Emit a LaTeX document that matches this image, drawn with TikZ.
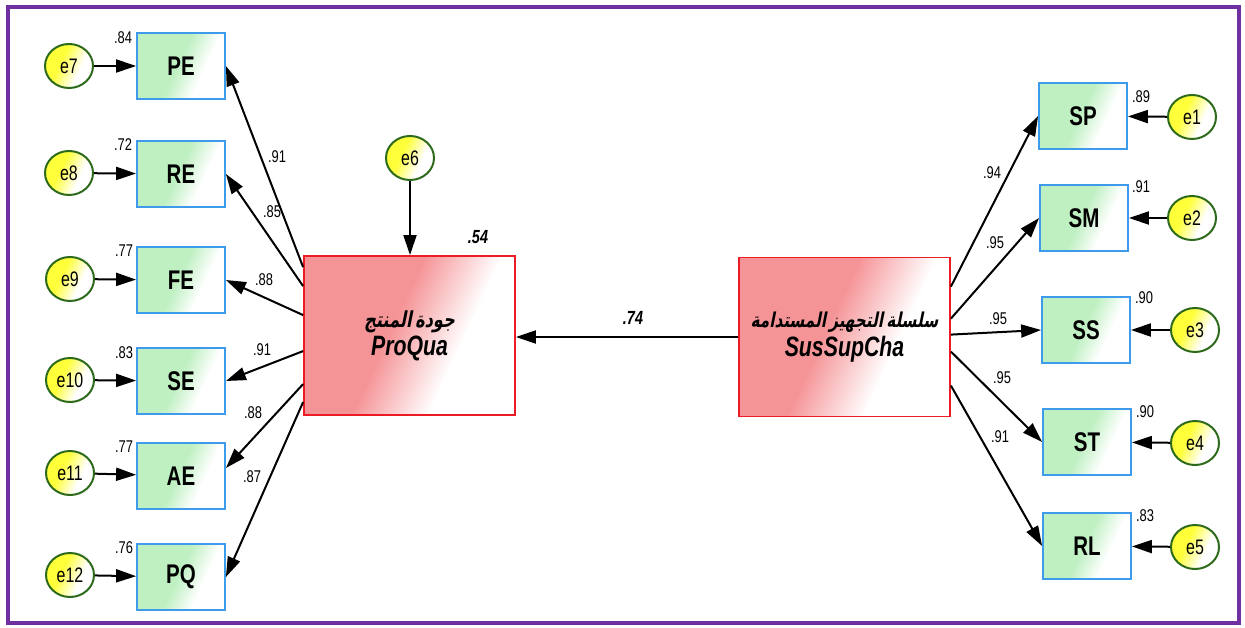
\documentclass[tikz,border=0pt]{standalone}
\usepackage{fontspec}
\setmainfont{Liberation Sans}[FakeStretch=0.76]
\newfontfamily\arabicfont[Script=Arabic,FakeSlant=0.2,FakeStretch=0.74]{DejaVu Sans}
\TeXXeTstate=1
\usetikzlibrary{arrows.meta,shapes.geometric,calc}
\definecolor{framepurple}{HTML}{7030A0}
\definecolor{boxgreen}{HTML}{BFF0C2}
\definecolor{boxblue}{HTML}{3E9BEB}
\definecolor{errgreen}{HTML}{2E6A1C}
\definecolor{erryellow}{HTML}{FFFF3A}
\definecolor{latred}{HTML}{EC1C24}
\definecolor{latpink}{HTML}{F59497}
\pgfdeclarehorizontalshading{gfade}{100bp}{color(0bp)=(boxgreen); color(25bp)=(boxgreen); color(48bp)=(boxgreen); color(64bp)=(white); color(100bp)=(white)}
\pgfdeclarehorizontalshading{yfade}{100bp}{color(0bp)=(erryellow); color(25bp)=(erryellow); color(40bp)=(erryellow); color(62bp)=(white); color(100bp)=(white)}
\pgfdeclarehorizontalshading{rfade}{100bp}{color(0bp)=(latpink); color(25bp)=(latpink); color(45bp)=(latpink); color(63bp)=(white); color(100bp)=(white)}
\tikzset{
 ind/.style={draw=boxblue, line width=1.8pt, minimum width=88pt, minimum height=66pt, inner sep=0pt, shading=gfade, shading angle=-25, font=\fontsize{27}{28}\selectfont\bfseries},
 err/.style={ellipse, draw=errgreen, line width=2pt, minimum width=48pt, minimum height=44pt, inner sep=0pt, shading=yfade, shading angle=-25, font=\fontsize{21}{22}\selectfont},
 lat/.style={draw=latred, line width=1.8pt, minimum width=211pt, minimum height=159pt, text width=205pt, inner sep=0pt, shading=rfade, shading angle=-25, align=center},
 arr/.style={line width=2pt, -{Triangle[length=20pt,width=13pt]}},
 lbl/.style={font=\fontsize{17}{18}\selectfont, inner sep=0pt},
 blbl/.style={font=\fontsize{19}{20}\selectfont\bfseries\itshape, inner sep=0pt}
}
\begin{document}
\begin{tikzpicture}[x=1pt,y=-1pt]
\useasboundingbox (0,0) rectangle (1245,628);
\draw[framepurple, line width=4pt] (8,7) rectangle (1239,623);

% latent variables
\node[lat] (pq) at (409.5,335.5) {{\arabicfont\bfseries\fontsize{22}{24}\selectfont\beginR جودة المنتج\endR}\\[2pt]{\fontsize{28}{30}\selectfont\bfseries\itshape ProQua}};
\node[lat] (ssc) at (844.5,337) {{\arabicfont\bfseries\fontsize{20.5}{24}\selectfont\beginR سلسلة التجهيز المستدامة\endR}\\[2pt]{\fontsize{28}{30}\selectfont\bfseries\itshape SusSupCha}};

% left indicators
\node[ind] (pe) at (181,66) {PE};
\node[ind] (re) at (181,174) {RE};
\node[ind] (fe) at (181,280) {FE};
\node[ind] (se) at (181,381) {SE};
\node[ind] (ae) at (181,476) {AE};
\node[ind] (pqi) at (181,577) {PQ};

\node[err] (e7) at (69,66) {e7};
\node[err] (e8) at (69,173) {e8};
\node[err] (e9) at (70,279) {e9};
\node[err] (e10) at (70,380) {e10};
\node[err] (e11) at (70,473) {e11};
\node[err] (e12) at (70,575) {e12};

% right indicators
\node[ind] (sp) at (1083,116) {SP};
\node[ind] (sm) at (1084,218) {SM};
\node[ind] (ss) at (1086,330) {SS};
\node[ind] (st) at (1087,442) {ST};
\node[ind] (rl) at (1087,546) {RL};

\node[err] (e1) at (1192,117) {e1};
\node[err] (e2) at (1192,218) {e2};
\node[err] (e3) at (1195,330) {e3};
\node[err] (e4) at (1195,443) {e4};
\node[err] (e5) at (1195,547) {e5};

\node[err] (e6) at (410,158) {e6};

% error arrows
\foreach \e/\b in {e7/pe,e8/re,e9/fe,e10/se,e11/ae,e12/pqi,e1/sp,e2/sm,e3/ss,e4/st,e5/rl}
  \draw[arr] (\e) -- (\b);
\draw[arr] (e6.south) -- (e6.south |- pq.north);

% structural path
\draw[arr] (ssc.west) -- (ssc.west -| pq.east);

% loadings left
\draw[arr] ([yshift=-12pt]pq.north west) -- (pe.east);
\draw[arr] ([yshift=-31pt]pq.north west) -- (re.east);
\draw[arr] ([yshift=-60pt]pq.north west) -- (fe.east);
\draw[arr] ([yshift=-96pt]pq.north west) -- (se.east);
\draw[arr] ([yshift=-129pt]pq.north west) -- ([yshift=8pt]ae.east);
\draw[arr] ([yshift=-147pt]pq.north west) -- (pqi.east);

% loadings right
\draw[arr] ([yshift=-30pt]ssc.north east) -- (sp.west);
\draw[arr] ([yshift=-62pt]ssc.north east) -- (sm.west);
\draw[arr] ([yshift=-78pt]ssc.north east) -- (ss.west);
\draw[arr] ([yshift=-95pt]ssc.north east) -- (st.west);
\draw[arr] ([yshift=-129pt]ssc.north east) -- (rl.west);

% labels
\node[lbl] (l1) at (277,157) {.91};
\node[lbl] (l2) at (272,212) {.85};
\node[lbl] (l3) at (264,280) {.88};
\node[lbl] (l4) at (262,350) {.91};
\node[lbl] (l5) at (253,413) {.88};
\node[lbl] (l6) at (252,477) {.87};

\node[lbl] (r1) at (992,173) {.94};
\node[lbl] (r2) at (995,243) {.95};
\node[lbl] (r3) at (998,319) {.95};
\node[lbl] (r4) at (1002,378) {.95};
\node[lbl] (r5) at (1000,437) {.91};

\node[lbl] (s7) at (123,38) {.84};
\node[lbl] (s8) at (123,145) {.72};
\node[lbl] (s9) at (124,251) {.77};
\node[lbl] (s10) at (124,353) {.83};
\node[lbl] (s11) at (124,447) {.77};
\node[lbl] (s12) at (124,548) {.76};

\node[lbl] (s1) at (1141,97) {.89};
\node[lbl] (s2) at (1141,187) {.91};
\node[lbl] (s3) at (1144,298) {.90};
\node[lbl] (s4) at (1145,412) {.90};
\node[lbl] (s5) at (1145,516) {.83};

\node[blbl] (r2pq) at (478,237) {.54};
\node[blbl] (b74) at (633,318) {.74};
\end{tikzpicture}
\end{document}
